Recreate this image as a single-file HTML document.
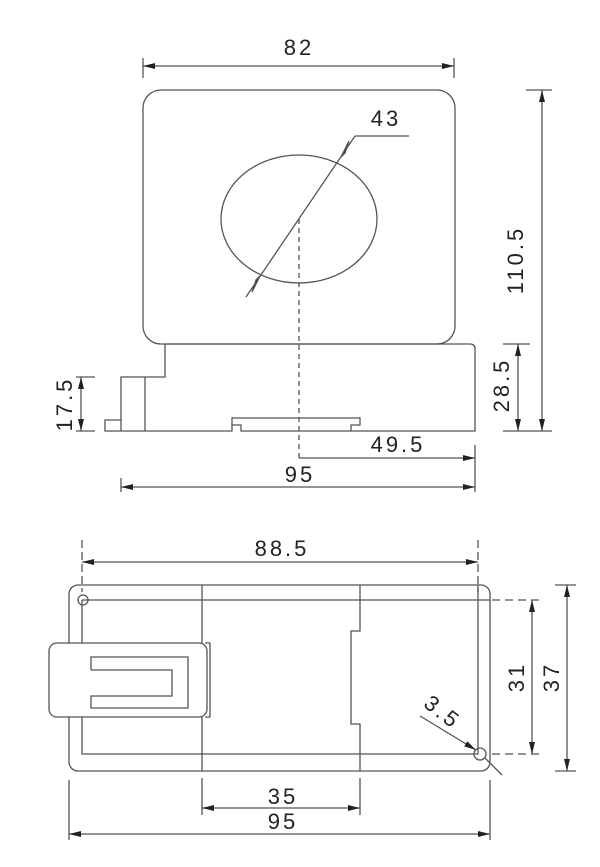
<!DOCTYPE html>
<html><head><meta charset="utf-8"><style>
html,body{margin:0;padding:0;background:#fff;}
svg{display:block;}
text{font-family:"Liberation Sans",sans-serif;font-size:22px;fill:#222;letter-spacing:3px;}
</style></head><body>
<svg width="600" height="867" viewBox="0 0 600 867" xmlns="http://www.w3.org/2000/svg">
<defs>
<marker id="a" markerWidth="12" markerHeight="6" refX="12" refY="3" orient="auto-start-reverse" markerUnits="userSpaceOnUse">
<path d="M0,0 L12,3 L0,6 z" fill="#222"/></marker>
</defs>
<g stroke="#555" stroke-width="1.3" fill="none">
<rect x="143" y="90" width="312" height="254" rx="18"/>
<ellipse cx="299" cy="219" rx="78" ry="64"/>
<path d="M165,344 H470 Q475,344 475,349 V431 H241 V425 H232 V418 H360 V425 H351 V431"/>
<path d="M232,425 V431 H105 V420 H121 V377 H165 V344"/>
<line x1="145" y1="377" x2="145" y2="431"/>
<line x1="121" y1="420" x2="121" y2="431"/>
<line x1="299" y1="219" x2="299" y2="459" stroke-dasharray="5,4"/>
<line x1="246" y1="297" x2="355" y2="136"/>
<path d="M260,276 L252,292 L256,280 Z M341,157 L349,141 L345,153 Z" fill="#222"/>
<line x1="355" y1="136" x2="409" y2="136"/>
<line x1="143" y1="58" x2="143" y2="78"/><line x1="454" y1="58" x2="454" y2="78"/>
<line x1="143" y1="66" x2="454" y2="66" marker-start="url(#a)" marker-end="url(#a)"/>
<line x1="526" y1="90" x2="552" y2="90"/><line x1="520" y1="431" x2="552" y2="431"/>
<line x1="542" y1="90" x2="542" y2="431" marker-start="url(#a)" marker-end="url(#a)"/>
<line x1="503" y1="344" x2="530" y2="344"/><line x1="503" y1="431" x2="520" y2="431"/>
<line x1="518" y1="344" x2="518" y2="431" marker-start="url(#a)" marker-end="url(#a)"/>
<line x1="76" y1="377" x2="95" y2="377"/><line x1="76" y1="431" x2="95" y2="431"/>
<line x1="81" y1="377" x2="81" y2="431" marker-start="url(#a)" marker-end="url(#a)"/>
<line x1="475" y1="445" x2="475" y2="492"/><line x1="121" y1="478" x2="121" y2="492"/>
<line x1="299" y1="458" x2="475" y2="458" marker-end="url(#a)"/>
<line x1="121" y1="487" x2="475" y2="487" marker-start="url(#a)" marker-end="url(#a)"/>

<rect x="69" y="585" width="421" height="186" rx="9"/>
<path d="M82,600 V754 H478 V585"/>
<line x1="82" y1="600" x2="490" y2="600"/>
<line x1="202" y1="585" x2="202" y2="771"/>
<path d="M360,585 V631 H351 V724 H360 V771"/>
<circle cx="83" cy="600" r="5"/>
<circle cx="480" cy="754" r="6"/>
<rect x="49" y="643" width="158" height="74" rx="8" fill="#fff"/>
<path d="M205,643 H210 V717 H205"/>
<path d="M91,670 V657 H188 V708 H91 V696 H172 V670 H91"/>
<line x1="82" y1="540" x2="82" y2="592" stroke-dasharray="8,4"/><line x1="478" y1="540" x2="478" y2="592" stroke-dasharray="8,4"/>
<line x1="82" y1="562" x2="478" y2="562" marker-start="url(#a)" marker-end="url(#a)"/>
<line x1="492" y1="600" x2="542" y2="600" stroke-dasharray="8,5"/>
<line x1="492" y1="754" x2="542" y2="754" stroke-dasharray="8,5"/>
<line x1="532" y1="600" x2="532" y2="754" marker-start="url(#a)" marker-end="url(#a)"/>
<line x1="555" y1="585" x2="576" y2="585"/><line x1="555" y1="771" x2="576" y2="771"/>
<line x1="567" y1="585" x2="567" y2="771" marker-start="url(#a)" marker-end="url(#a)"/>
<line x1="420" y1="716" x2="476" y2="750" marker-end="url(#a)"/>
<line x1="485" y1="758" x2="502" y2="775"/>
<line x1="202" y1="778" x2="202" y2="815"/><line x1="360" y1="778" x2="360" y2="815"/>
<line x1="202" y1="808" x2="360" y2="808" marker-start="url(#a)" marker-end="url(#a)"/>
<line x1="69" y1="780" x2="69" y2="840"/><line x1="490" y1="780" x2="490" y2="840"/>
<line x1="69" y1="834" x2="490" y2="834" marker-start="url(#a)" marker-end="url(#a)"/>
</g>
<text x="299" y="55" text-anchor="middle">82</text>
<text x="386" y="126" text-anchor="middle">43</text>
<text transform="translate(523,260) rotate(-90)" text-anchor="middle">110.5</text>
<text transform="translate(509,385) rotate(-90)" text-anchor="middle">28.5</text>
<text transform="translate(72,404) rotate(-90)" text-anchor="middle">17.5</text>
<text x="398" y="452" text-anchor="middle">49.5</text>
<text x="300" y="482" text-anchor="middle">95</text>
<text x="282" y="556" text-anchor="middle">88.5</text>
<text transform="translate(524,677) rotate(-90)" text-anchor="middle">31</text>
<text transform="translate(559,677) rotate(-90)" text-anchor="middle">37</text>
<text transform="translate(438,718) rotate(38)" text-anchor="middle">3.5</text>
<text x="283" y="804" text-anchor="middle">35</text>
<text x="283" y="829" text-anchor="middle">95</text>
</svg>
</body></html>
